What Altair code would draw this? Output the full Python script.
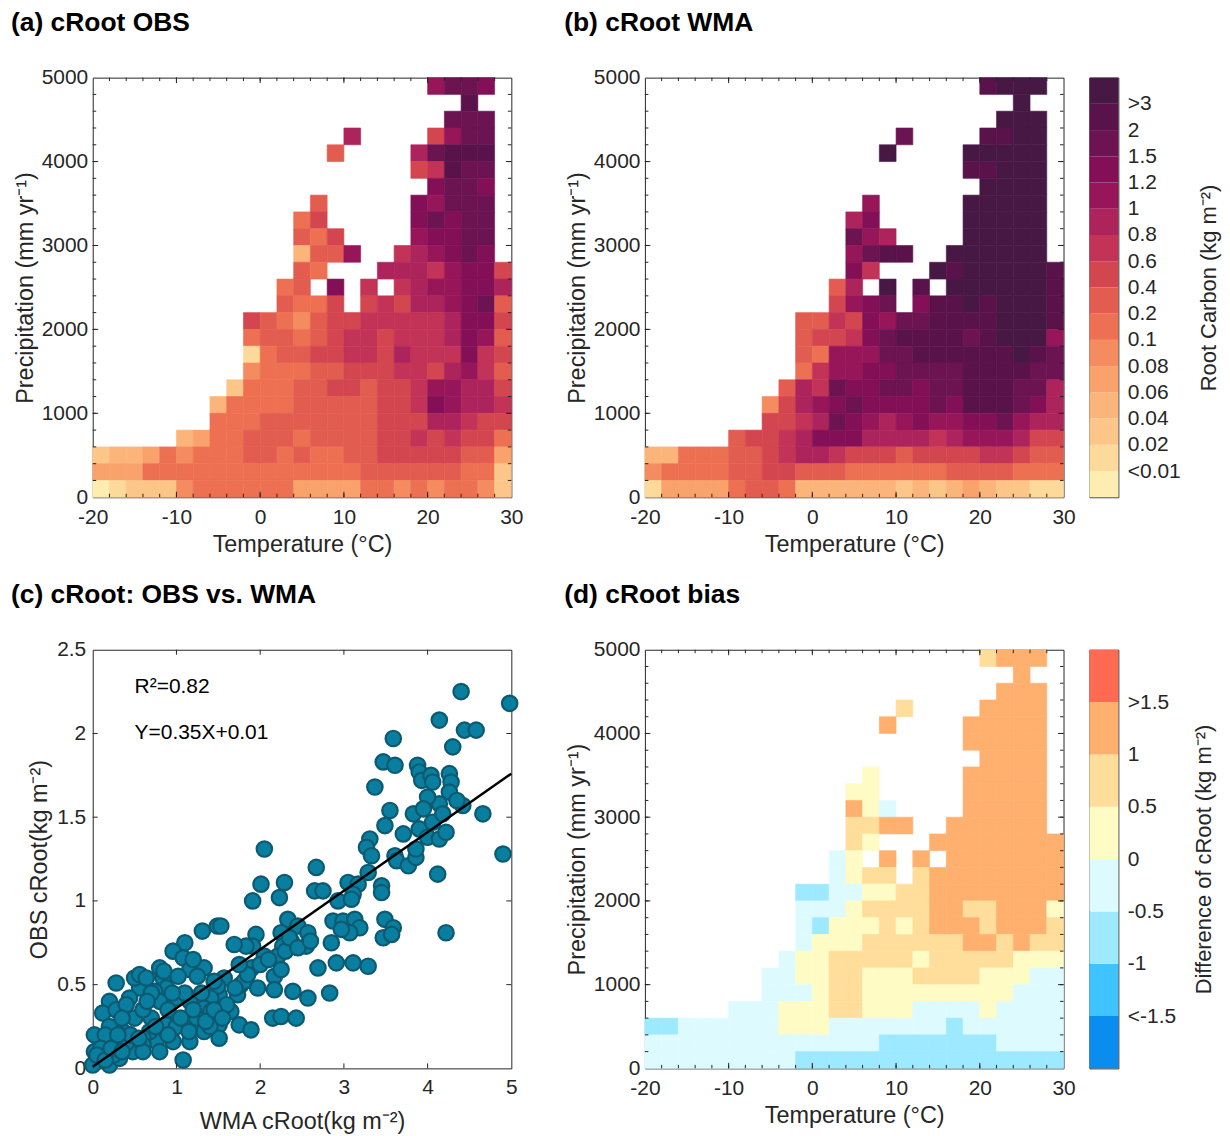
import json
import altair as alt
import pandas as pd

FONT = "Liberation Sans"
INK = "#262626"

# ---------------- grid definition ----------------
TEMP_BINS = list(range(-20, 30, 2))      # left edges of 2 degC bins (25 columns)
PRECIP_BINS = list(range(0, 5000, 200))  # lower edges of 200 mm bins (25 rows)

# Each row (listed from top 4800-5000 mm down to 0-200 mm): (first column, class codes)
# '.' = no data, hex digit = colour class
OBS_ROWS = [
    (20, "bddc"), (22, "e"), (21, "ddd"), (15, "a....8bdd"), (14, "7....adeee"),
    (19, "89edd"), (20, "cddc"), (13, "7.....cbddd"), (12, "68.....cdcdd"),
    (12, "768....bccdd"), (12, "377b..9abcdc"), (12, "76...aaa9bcc8"),
    (11, "67.c.9.9abbcca"), (11, "7668.898aabcd7"), (9, "876578899999acc8"),
    (9, "677678998999acb7"), (9, "167788998a999c98"), (9, "566677888998ab97"),
    (8, "266677887889bbaa8"), (7, "3666677777889cbaa9"), (7, "6667777777888aa988"),
    (5, "34667776777788989886"), (0, "2334656667767667788888774"),
    (0, "4446666666666666777777662"), (0, "0122256666664444665656652"),
]

WMA_ROWS = [
    (20, "efff"), (22, "f"), (21, "fff"), (15, "d....eeff"), (14, "f....fffff"),
    (19, "eefff"), (20, "ffff"), (13, "b.....fffff"), (12, "ac.....fffff"),
    (12, "dba....fffff"), (12, "bdee..ffffff"), (12, "c9...fefffffe"),
    (11, "7a.f.e.ffffffe"), (11, "8bcd.ceefefffe"), (9, "7798cbddeeeefffe"),
    (9, "7889cdeeeedefffb"), (9, "76bbbddeeeeeefed"), (9, "69bbccddddeeeedd"),
    (8, "7a9dccddcddeeedda"), (7, "58abcdccccdceeedca"), (7, "889adcbabcbbccdbaa"),
    (5, "7889acccaaaa9abbba88"), (0, "336667789aa98887888899877"),
    (0, "5666677887776666667777666"), (0, "1444467763333332323432211"),
]

BIAS_ROWS = [
    (20, "5666"), (22, "6"), (21, "666"), (15, "5....6666"), (14, "6....66666"),
    (19, "66666"), (20, "6666"), (13, "4.....66666"), (12, "44.....66666"),
    (12, "643....66666"), (12, "5566..666666"), (12, "54...66666666"),
    (11, "34.6.6.6666666"), (11, "3455.566666666"), (9, "2233445566666666"),
    (9, "3334555566556664"), (9, "3244454566656665"), (9, "3444555555665655"),
    (8, "34455555455555444"), (7, "334455444555544433"), (7, "333455444444444333"),
    (5, "33344455444333343333"), (0, "2233333344433333332333333"),
    (0, "3333333333333322222223333"), (0, "3333333332222222222222222"),
]

ROOT_COLORS = ["#FEEDB0", "#FDD99B", "#FCC689", "#FBB57A", "#F9A26C", "#F58C5F",
               "#EE7052", "#E25D50", "#D3464F", "#C23357", "#AD245C", "#97165A",
               "#831056", "#6C1352", "#5A124B", "#481845"]
ROOT_LABELS = ["<0.01", "0.02", "0.04", "0.06", "0.08", "0.1", "0.2", "0.4",
               "0.6", "0.8", "1", "1.2", "1.5", "2", ">3"]

BIAS_COLORS = ["#0A8DEE", "#40C4FF", "#9DE9FF", "#DDFBFF",
               "#FFFBC4", "#FFDD9B", "#FFB06E", "#FF6B52"]
BIAS_LABELS = ["<-1.5", "-1", "-0.5", "0", "0.5", "1", ">1.5"]

TEMP_TICKS = [-20, -10, 0, 10, 20, 30]
PRECIP_TICKS = [0, 1000, 2000, 3000, 4000, 5000]

# ---------------- scatter data ----------------
WMA_X = [4.40, 4.98, 4.14, 4.44, 4.58, 3.59, 4.30, 3.47, 3.61, 3.88, 3.90, 3.93, 4.04, 4.06,
         4.26, 4.28, 4.26, 3.37, 4.14, 4.42, 4.66, 3.55, 3.83, 3.49, 3.71, 3.90, 4.00, 4.14,
         4.22, 4.06, 3.31, 3.27, 3.33, 3.61, 3.63, 3.77, 3.86, 3.86, 4.90, 2.05, 2.67, 3.29,
         4.12, 2.01, 2.29, 2.65, 2.75, 3.05, 3.17, 3.11, 3.45, 3.45, 1.91, 2.23, 2.93,
         4.00, 4.18, 3.95, 4.35,
         3.09, 4.22, 3.49, 3.59, 3.47, 3.57, 2.87, 2.99, 3.13, 3.19, 3.07, 2.97, 2.85, 2.91,
         3.11, 3.29, 2.69, 2.83, 1.31, 1.49, 1.53, 1.95, 2.33, 2.45, 2.57, 2.55, 2.37, 2.25,
         2.27, 2.21, 2.05, 1.91, 1.83, 1.69, 1.10, 0.96, 1.08, 1.33, 1.16, 0.80, 0.84, 0.88,
         1.00, 0.74, 0.80, 0.56, 0.44, 0.50, 0.56, 0.64, 0.28, 0.20, 0.12, 0.28, 0.40, 1.57,
         1.51, 1.49, 1.41, 1.33, 1.16, 1.24, 1.41, 1.65, 1.73, 1.77, 1.81, 1.97, 2.17, 2.25,
         2.17, 2.39, 2.57, 2.15, 2.25, 2.43, 1.75, 1.89, 1.51, 1.51, 1.33, 1.16, 1.08, 1.08,
         0.96, 0.88, 0.76, 0.68, 0.60, 0.44, 0.36, 0.28, 0.16, 0.08, 0.02, 0.02, 0.04, 0.12,
         0.20, 0.00, 0.32, 0.48, 0.60, 0.80,
         0.30, 0.50, 0.70, 0.90, 1.00, 1.20, 1.30, 1.40, 0.60, 0.40, 0.20, 0.15, 0.10, 0.25,
         0.90, 1.10, 1.25, 1.45, 1.60, 1.70, 1.90, 2.00, 2.10, 2.30, 2.35, 2.45, 2.60, 1.85,
         1.75, 0.85, 0.95, 0.70, 0.60, 0.35, 0.45, 0.05, 0.15, 0.22, 0.35, 0.55, 0.75, 1.05,
         1.15, 1.35, 1.45, 1.55, 0.65, 0.30, 1.02, 1.20]
OBS_Y = [2.25, 2.18, 2.08, 2.02, 2.02, 1.97, 1.92, 1.83, 1.81, 1.81, 1.77, 1.72, 1.75, 1.71,
         1.76, 1.71, 1.65, 1.68, 1.58, 1.57, 1.52, 1.54, 1.52, 1.45, 1.40, 1.43, 1.38, 1.37,
         1.41, 1.47, 1.37, 1.32, 1.27, 1.27, 1.24, 1.21, 1.26, 1.31, 1.28, 1.31, 1.20, 1.17,
         1.16, 1.10, 1.11, 1.06, 1.06, 1.11, 1.10, 1.04, 1.09, 1.05, 1.00, 1.02, 1.00,
         1.62, 1.52, 1.55, 1.60,
         1.01, 0.81, 0.89, 0.84, 0.78, 0.80, 0.88, 0.88, 0.89, 0.84, 0.81, 0.83, 0.75, 0.63,
         0.63, 0.61, 0.60, 0.45, 0.82, 0.85, 0.85, 0.80, 0.89, 0.85, 0.81, 0.73, 0.76, 0.81,
         0.73, 0.67, 0.67, 0.73, 0.73, 0.74, 0.75, 0.70, 0.66, 0.60, 0.59, 0.60, 0.54, 0.48,
         0.42, 0.46, 0.40, 0.48, 0.42, 0.54, 0.56, 0.54, 0.51, 0.40, 0.33, 0.35, 0.38, 0.54,
         0.44, 0.49, 0.42, 0.36, 0.40, 0.30, 0.34, 0.34, 0.44, 0.50, 0.52, 0.48, 0.55, 0.59,
         0.47, 0.46, 0.42, 0.30, 0.31, 0.30, 0.26, 0.23, 0.26, 0.18, 0.22, 0.16, 0.26, 0.05,
         0.16, 0.26, 0.16, 0.22, 0.18, 0.20, 0.22, 0.22, 0.14, 0.18, 0.20, 0.10, 0.04, 0.06,
         0.02, 0.02, 0.06, 0.10, 0.14, 0.10,
         0.15, 0.30, 0.30, 0.35, 0.25, 0.35, 0.45, 0.25, 0.10, 0.15, 0.25, 0.20, 0.12, 0.08,
         0.20, 0.45, 0.55, 0.52, 0.38, 0.48, 0.60, 0.62, 0.65, 0.70, 0.78, 0.72, 0.76, 0.56,
         0.62, 0.58, 0.45, 0.45, 0.35, 0.30, 0.20, 0.08, 0.05, 0.12, 0.10, 0.18, 0.25, 0.30,
         0.22, 0.28, 0.35, 0.30, 0.40, 0.20, 0.55, 0.65]

FIT_SLOPE, FIT_INTERCEPT = 0.35, 0.01
FIT_X = [0, 5]
ANNOT_X = [0.5, 0.5]
ANNOT_Y = [2.28, 2.0]
ANNOT_TEXT = ["R\u00b2=0.82", "Y=0.35X+0.01"]

W, H_TOP, H_BOT = 420, 421, 420
LABEL_FS, TITLE_FS, PANEL_FS = 21, 23.5, 26.5
TITLE_OFFSET = 30


def grid_df(rows):
    recs = []
    n = len(rows)
    ncol = len(TEMP_BINS)
    for k, (start, codes) in enumerate(rows):
        line = ("." * start + codes).ljust(ncol, ".")[:ncol]
        r = n - 1 - k
        for c, ch in enumerate(line):
            if ch == ".":
                continue
            recs.append({"t0": TEMP_BINS[c], "t1": TEMP_BINS[c] + 2,
                         "p0": PRECIP_BINS[r], "p1": PRECIP_BINS[r] + 200,
                         "cls": int(ch, 16)})
    return pd.DataFrame(recs)


def tick_layers(xvals, yvals, xenc, yenc, w, h, length):
    """Inward frame ticks; xenc / yenc build the same positional encodings as the main layer."""
    layers = []
    dx = pd.DataFrame({"v": xvals})
    dy = pd.DataFrame({"v": yvals})
    for a, b in [(h, h - length), (0, length)]:
        layers.append(alt.Chart(dx).mark_rule(color=INK, strokeWidth=1).encode(
            x=xenc("v"), y=alt.value(a), y2=alt.value(b)))
    for a, b in [(0, length), (w, w - length)]:
        layers.append(alt.Chart(dy).mark_rule(color=INK, strokeWidth=1).encode(
            y=yenc("v"), x=alt.value(a), x2=alt.value(b)))
    return layers


def heatmap(rows, colors, title, h, dx):
    df = grid_df(rows)
    xs = alt.Scale(domain=[-20, 30], nice=False, zero=False)
    ys = alt.Scale(domain=[0, 5000], nice=False, zero=False)
    xax = alt.Axis(values=TEMP_TICKS, labelExpr="'' + datum.value", labelPadding=9, titlePadding=5)
    yax = alt.Axis(values=PRECIP_TICKS, labelExpr="'' + datum.value", labelPadding=5, titlePadding=4)

    def xenc(f):
        return alt.X(f"{f}:Q", scale=xs, axis=xax, title="Temperature (\u00b0C)")

    def yenc(f):
        return alt.Y(f"{f}:Q", scale=ys, axis=yax, title="Precipitation (mm yr\u207b\u00b9)")

    cs = alt.Scale(domain=list(range(len(colors))), range=colors)
    base = alt.Chart(df).mark_rect(strokeWidth=0.6).encode(
        x=xenc("t0"), x2="t1:Q", y=yenc("p0"), y2="p1:Q",
        color=alt.Color("cls:O", scale=cs, legend=None),
        stroke=alt.Stroke("cls:O", scale=cs, legend=None),
    )
    minor = tick_layers(list(range(-18, 30, 2)), list(range(200, 5000, 200)), xenc, yenc, W, h, 3.5)
    major = tick_layers([-10, 0, 10, 20], [1000, 2000, 3000, 4000], xenc, yenc, W, h, 5.5)
    return alt.layer(base, *minor, *major).properties(
        width=W, height=h,
        title=alt.TitleParams(title, anchor="start", frame="group", dx=dx, offset=TITLE_OFFSET))


def colorbar(colors, labels, title, h):
    n = len(colors)
    df = pd.DataFrame({"y0": list(range(n)), "y1": list(range(1, n + 1)), "col": colors})
    arr = json.dumps(labels)
    return alt.Chart(df).mark_rect().encode(
        x=alt.value(0), x2=alt.value(29),
        y=alt.Y("y0:Q", scale=alt.Scale(domain=[0, n], nice=False),
                axis=alt.Axis(orient="right", values=list(range(1, n)),
                              labelExpr=f"{arr}[datum.value - 1]", labelPadding=9,
                              titleAngle=270, titlePadding=40, titleFontSize=22),
                title=title),
        y2="y1:Q",
        color=alt.Color("col:N", scale=None),
    ).properties(width=29, height=h)


def spacer(h):
    return alt.Chart(pd.DataFrame({"s": []})).mark_point(opacity=0).properties(
        width=82, height=h, view=alt.ViewBackground(stroke="transparent"))


def scatter():
    xs = alt.Scale(domain=[0, 5], nice=False, zero=False)
    ys = alt.Scale(domain=[0, 2.5], nice=False, zero=False)
    xax = alt.Axis(values=[0, 1, 2, 3, 4, 5], labelExpr="'' + datum.value", labelPadding=8, titlePadding=12)
    yax = alt.Axis(values=[0, 0.5, 1, 1.5, 2, 2.5], labelExpr="'' + datum.value", labelPadding=7, titlePadding=5)

    def xenc(f):
        return alt.X(f"{f}:Q", scale=xs, axis=xax, title="WMA cRoot(kg m\u207b\u00b2)")

    def yenc(f):
        return alt.Y(f"{f}:Q", scale=ys, axis=yax, title="OBS cRoot(kg m\u207b\u00b2)")

    pts = alt.Chart(pd.DataFrame({"x": WMA_X, "y": OBS_Y})).mark_circle(
        size=240, color="#0A7E9E", stroke="#0C5A72", strokeWidth=2.2, opacity=1).encode(
        x=xenc("x"), y=yenc("y"))
    fit = pd.DataFrame({"x": FIT_X, "y": [FIT_SLOPE * v + FIT_INTERCEPT for v in FIT_X]})
    line = alt.Chart(fit).mark_line(color="black", strokeWidth=2.5).encode(x=xenc("x"), y=yenc("y"))
    txt = alt.Chart(pd.DataFrame({"x": ANNOT_X, "y": ANNOT_Y, "t": ANNOT_TEXT})).mark_text(
        align="left", baseline="middle", font=FONT, fontSize=21, color="black").encode(
        x=xenc("x"), y=yenc("y"), text="t:N")
    ticks = tick_layers([1, 2, 3, 4], [0.5, 1, 1.5, 2], xenc, yenc, W, H_BOT, 5)
    return alt.layer(pts, line, txt, *ticks).properties(
        width=W, height=H_BOT,
        title=alt.TitleParams("(c) cRoot: OBS vs. WMA", anchor="start", frame="group", dx=-82,
                              offset=TITLE_OFFSET))


pa = heatmap(OBS_ROWS, ROOT_COLORS, "(a) cRoot OBS", H_TOP, -82)
pb = heatmap(WMA_ROWS, ROOT_COLORS, "(b) cRoot WMA", H_TOP, -81)
cb1 = colorbar(ROOT_COLORS, ROOT_LABELS, "Root Carbon (kg m\u207b\u00b2)", H_TOP)
pc = scatter()
pdd = heatmap(BIAS_ROWS, BIAS_COLORS, "(d) cRoot bias", H_BOT, -81)
cb2 = colorbar(BIAS_COLORS, BIAS_LABELS, "Difference of cRoot (kg m\u207b\u00b2)", H_BOT)

chart = alt.concat(
    pa, spacer(H_TOP), pb, cb1,
    pc, spacer(H_BOT), pdd, cb2,
    columns=4, spacing={"row": 153, "column": 26}, bounds="flush", align="each",
).resolve_scale(color="independent", stroke="independent").properties(
    padding={"left": 2, "top": 0, "right": 2, "bottom": 2},
    background="white",
).configure_view(stroke=INK, strokeWidth=1).configure_axis(
    labelFont=FONT, titleFont=FONT, labelFontSize=LABEL_FS, titleFontSize=TITLE_FS,
    labelColor=INK, titleColor=INK, titleFontWeight="normal",
    ticks=False, domain=False, grid=False, labelFlush=False, labelOverlap=False,
).configure_title(font=FONT, fontSize=PANEL_FS, fontWeight="bold", color="black")

chart.save("out.html", embed_options={"renderer": "svg", "actions": False})
